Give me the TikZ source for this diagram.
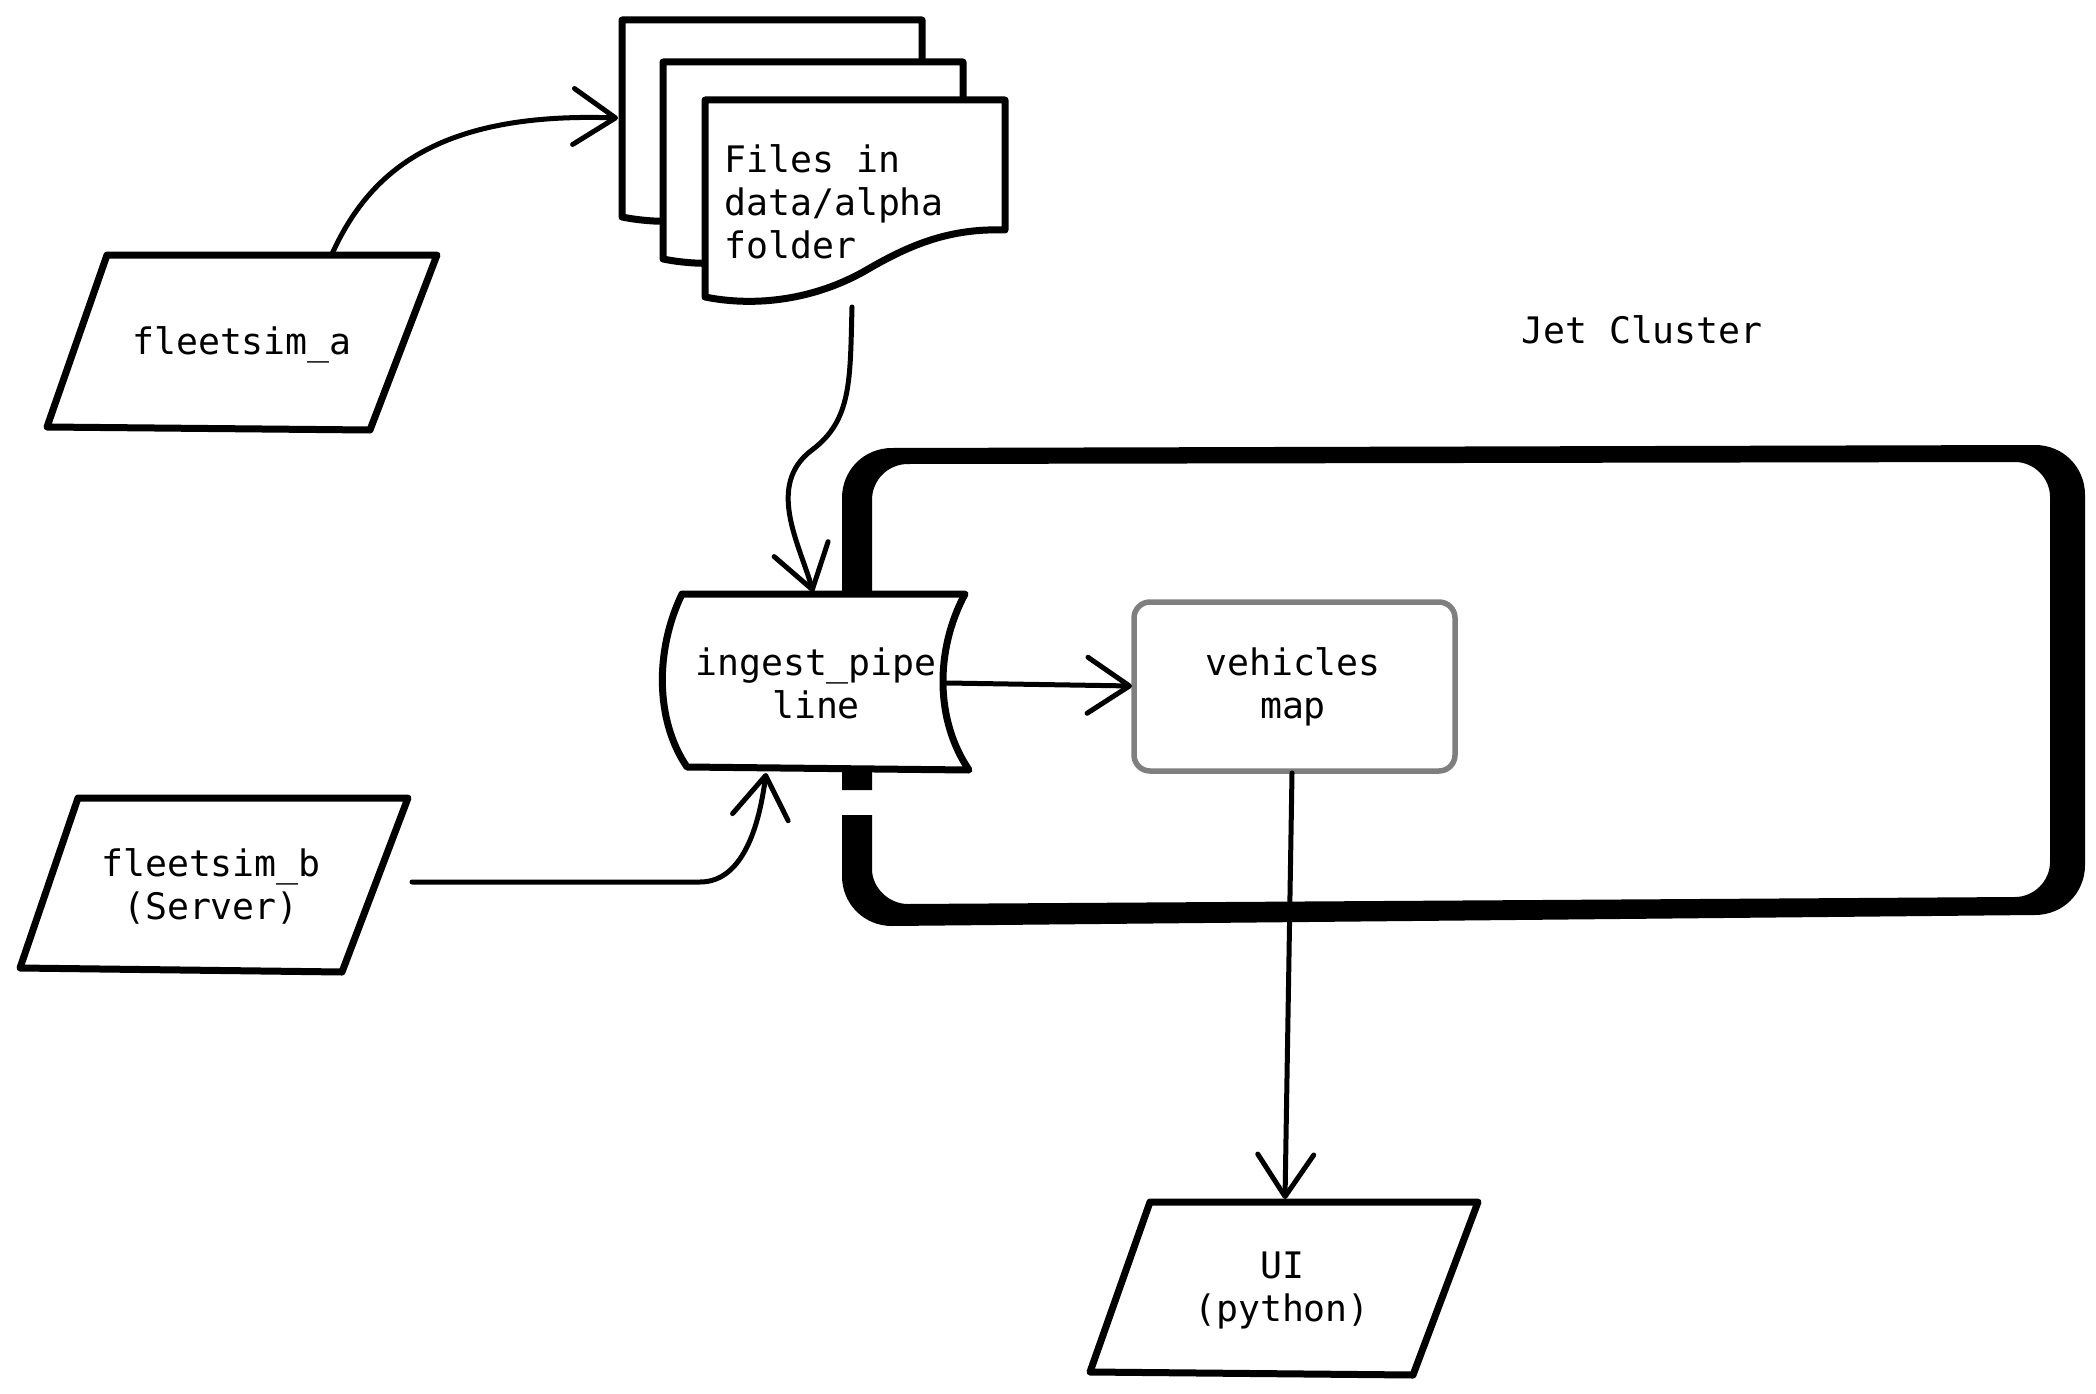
\documentclass[tikz,border=0pt]{standalone}
\usepackage{fontspec}
\newfontfamily\djm{DejaVu Sans Mono}
\usetikzlibrary{arrows.meta}
\definecolor{boxgray}{HTML}{7F7F7F}
\tikzset{
  shp/.style={line width=7pt, line join=round, line cap=round, fill=white, draw=black},
  conn/.style={line width=5pt, line cap=round, -{Straight Barb[length=42pt,width=56pt,round]}},
  txt/.style={font=\djm\fontsize{36.5}{43}\selectfont, inner sep=0pt, align=center, text=black},
  sheet/.pic={\draw[shp] (0,0) -- (300,0) -- (300,130) .. controls (245,128) and (205,145) .. (165,168) .. controls (115,198) and (55,208) .. (0,197) -- cycle;}
}
\begin{document}
\begin{tikzpicture}[x=1pt,y=-1pt]
\useasboundingbox (0,0) rectangle (2096,1394);

% Jet Cluster boundary (thick rounded frame with a gap on the left)
\fill[black] (842,815) -- (842,876) .. controls (842,904) and (864,926) .. (892,926)
  -- (2035,915) .. controls (2063,915) and (2085,893) .. (2085,865)
  -- (2085,495) .. controls (2085,467) and (2063,445) .. (2035,445)
  -- (892,448) .. controls (864,448) and (842,470) .. (842,498)
  -- (842,790) -- (872,790)
  -- (872,500) .. controls (872,480) and (888,464) .. (908,464)
  -- (2015,462) .. controls (2034,462) and (2050,478) .. (2050,497)
  -- (2050,862) .. controls (2050,881) and (2034,897) .. (2015,897)
  -- (908,904) .. controls (889,904) and (872,888) .. (872,869)
  -- (872,815) -- cycle;
\node[txt] (cluster) at (1642,330) {Jet Cluster};

% file stack
\pic at (622,20) {sheet};
\pic at (663,62) {sheet};
\pic at (705,100) {sheet};
\node[txt, anchor=west, align=left] (files) at (724,202) {Files in\\data/alpha\\folder};

% fleetsim_a
\draw[shp] (107,255) -- (437,255) -- (370,430) -- (47,427) -- cycle;
\node[txt] (fa) at (242,345) {fleetsim\_a};

% fleetsim_b
\draw[shp] (78,798) -- (408,798) -- (342,972) -- (20,968) -- cycle;
\node[txt] (fb) at (211,886) {fleetsim\_b\\(Server)};

% ingest_pipeline
\draw[shp] (682,594) -- (965,594) .. controls (935,650) and (935,720) .. (969,770)
  -- (687,767) .. controls (655,720) and (655,650) .. (682,594) -- cycle;
\node[txt] (ingest) at (816,683) {ingest\_pipe\\line};

% vehicles map
\draw[line width=5.5pt, draw=boxgray, fill=white, rounded corners=16pt] (1134,602) rectangle (1455,771);
\node[txt] (vehicles) at (1293,687) {vehicles\\map};

% UI
\draw[shp] (1150,1202) -- (1478,1202) -- (1413,1375) -- (1090,1372) -- cycle;
\node[txt] (ui) at (1282,1290) {UI\\(python)};

% connector end points
\coordinate (fa-out) at (332,254);
\coordinate (files-in) at (618,118);
\coordinate (files-out) at (852,307);
\coordinate (ing-top) at (813,592);
\coordinate (ing-right) at (947,683);
\coordinate (veh-left) at (1132,686);
\coordinate (fb-out) at (412,882);
\coordinate (ing-bottom) at (766,773);
\coordinate (veh-bottom) at (1292,773);
\coordinate (ui-top) at (1285,1199);

% connectors
\draw[conn] (fa-out) .. controls (370,170) and (440,112) .. (files-in);
\draw[conn] (files-out) .. controls (850,380) and (852,420) .. (812,450)
  .. controls (765,485) and (800,545) .. (ing-top);
\draw[conn] (ing-right) -- (veh-left);
\draw[conn] (fb-out) -- (700,882) .. controls (745,882) and (760,820) .. (ing-bottom);
\draw[conn] (veh-bottom) -- (ui-top);
\end{tikzpicture}
\end{document}
